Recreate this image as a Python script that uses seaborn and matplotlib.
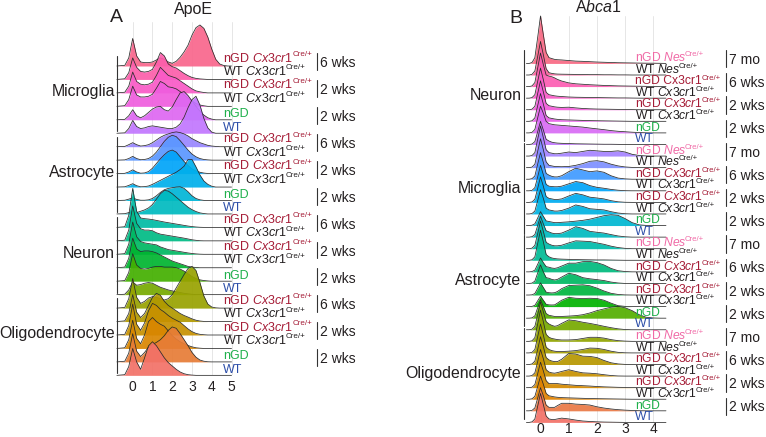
import math
import numpy as np
import matplotlib
matplotlib.use("Agg")
import matplotlib.pyplot as plt
import seaborn as sns

# ---------------- data: panel A (ApoE) ----------------
XA = [-0.8, -0.4, -0.2, 0, 0.2, 0.4, 0.6, 0.8, 1.0, 1.2, 1.4, 1.6, 1.8, 2.0, 2.2, 2.4,
      2.6, 2.8, 3.0, 3.2, 3.4, 3.6, 3.8, 4.0, 4.2, 4.4, 4.6, 4.8, 5.0]

m_ngd_cx_6 = [0, 0.05, 0.6, 2.05, 0.75, 0.3, 0.25, 0.25, 0.3, 0.45, 0.6, 0.5, 0.3, 0.2, 0.35, 0.65, 1.05, 1.55, 2.3, 2.85, 3.05, 2.8, 2.15, 1.25, 0.5, 0.15, 0.04, 0, 0]
m_wt_cx_6 = [0, 0.05, 0.5, 1.6, 0.9, 0.6, 0.55, 0.6, 0.75, 1.3, 2.0, 1.75, 1.15, 0.95, 0.85, 0.65, 0.45, 0.28, 0.15, 0.08, 0.04, 0.02, 0, 0, 0, 0, 0, 0, 0]
m_ngd_cx_2 = [0, 0.05, 0.5, 1.55, 0.85, 0.65, 0.6, 0.65, 0.8, 1.3, 1.9, 1.6, 1.3, 1.2, 1.1, 0.9, 0.7, 0.5, 0.3, 0.15, 0.08, 0.03, 0, 0, 0, 0, 0, 0, 0]
m_wt_cx_2 = [0, 0.05, 0.5, 1.5, 0.85, 0.7, 0.7, 0.75, 0.9, 1.35, 1.85, 1.7, 1.45, 1.4, 1.3, 1.1, 0.85, 0.6, 0.4, 0.22, 0.1, 0.04, 0, 0, 0, 0, 0, 0, 0]
m_ngd = [0, 0.03, 0.3, 0.75, 0.3, 0.15, 0.3, 0.55, 0.8, 0.95, 1.0, 0.75, 0.65, 0.95, 1.5, 2.0, 2.1, 1.8, 1.4, 1.0, 0.65, 0.35, 0.15, 0.05, 0, 0, 0, 0, 0]
m_wt = [0, 0.03, 0.35, 0.95, 0.5, 0.35, 0.4, 0.5, 0.55, 0.5, 0.45, 0.4, 0.35, 0.35, 0.45, 0.7, 1.2, 1.9, 2.5, 2.75, 2.1, 1.1, 0.4, 0.08, 0, 0, 0, 0, 0]

a_ngd_cx_6 = [0, 0.02, 0.15, 0.3, 0.15, 0.05, 0.08, 0.15, 0.3, 0.5, 0.7, 0.85, 0.95, 1.05, 1.1, 1.05, 0.95, 0.8, 0.6, 0.45, 0.3, 0.2, 0.1, 0.05, 0.02, 0, 0, 0, 0]
a_wt_cx_6 = [0, 0.02, 0.12, 0.28, 0.12, 0.03, 0.05, 0.12, 0.3, 0.6, 1.0, 1.4, 1.7, 1.85, 1.75, 1.45, 1.1, 0.75, 0.45, 0.25, 0.12, 0.05, 0.02, 0, 0, 0, 0, 0, 0]
a_ngd_cx_2 = [0, 0.02, 0.12, 0.28, 0.12, 0.03, 0.05, 0.15, 0.4, 0.75, 1.1, 1.4, 1.65, 1.75, 1.6, 1.25, 0.9, 0.6, 0.35, 0.2, 0.1, 0.04, 0.01, 0, 0, 0, 0, 0, 0]
a_wt_cx_2 = [0, 0.02, 0.12, 0.25, 0.1, 0.02, 0.03, 0.08, 0.2, 0.35, 0.5, 0.65, 0.8, 0.95, 1.1, 1.3, 1.55, 2.05, 2.05, 1.5, 0.9, 0.45, 0.2, 0.06, 0, 0, 0, 0, 0]
a_ngd = [0, 0.02, 0.1, 0.2, 0.08, 0.02, 0.02, 0.05, 0.15, 0.35, 0.6, 0.8, 0.9, 0.95, 1.0, 1.02, 0.9, 0.65, 0.35, 0.15, 0.05, 0.01, 0, 0, 0, 0, 0, 0, 0]
a_wt = [0, 0.02, 0.1, 0.2, 0.1, 0.2, 0.3, 0.45, 0.7, 1.1, 1.5, 1.75, 1.7, 1.5, 1.25, 1.0, 0.75, 0.5, 0.32, 0.18, 0.08, 0.03, 0, 0, 0, 0, 0, 0, 0]

n_ngd_cx_6 = [0, 0.05, 0.9, 2.9, 1.2, 0.7, 0.65, 0.62, 0.58, 0.52, 0.46, 0.4, 0.35, 0.3, 0.25, 0.2, 0.15, 0.1, 0.06, 0.03, 0.01, 0, 0, 0, 0, 0, 0, 0, 0]
n_wt_cx_6 = [0, 0.05, 0.8, 2.6, 1.3, 0.9, 0.8, 0.8, 0.75, 0.6, 0.5, 0.45, 0.4, 0.35, 0.3, 0.25, 0.2, 0.14, 0.08, 0.04, 0.01, 0, 0, 0, 0, 0, 0, 0, 0]
n_ngd_cx_2 = [0, 0.05, 0.75, 2.4, 1.3, 0.95, 0.85, 0.8, 0.75, 0.7, 0.55, 0.45, 0.35, 0.3, 0.25, 0.2, 0.15, 0.1, 0.06, 0.03, 0.01, 0, 0, 0, 0, 0, 0, 0, 0]
n_wt_cx_2 = [0, 0.05, 0.7, 2.2, 1.4, 1.2, 1.25, 1.25, 1.2, 1.1, 0.95, 0.8, 0.65, 0.5, 0.4, 0.3, 0.2, 0.1, 0.05, 0.02, 0, 0, 0, 0, 0, 0, 0, 0, 0]
n_ngd = [0, 0.05, 0.65, 2.05, 1.2, 0.95, 0.9, 0.95, 1.05, 1.1, 1.1, 1.05, 1.05, 1.05, 1.0, 0.9, 0.75, 0.55, 0.35, 0.2, 0.1, 0.05, 0.02, 0, 0, 0, 0, 0, 0]
n_wt = [0, 0.03, 0.35, 0.95, 0.7, 0.75, 0.85, 0.9, 0.85, 0.7, 0.55, 0.45, 0.35, 0.28, 0.22, 0.16, 0.1, 0.06, 0.03, 0.01, 0, 0, 0, 0, 0, 0, 0, 0, 0]

o_ngd_cx_6 = [0, 0.05, 0.7, 2.2, 0.8, 0.35, 0.5, 0.75, 0.85, 0.8, 0.7, 0.6, 0.7, 1.0, 1.5, 2.0, 2.5, 2.95, 3.1, 2.8, 1.9, 0.9, 0.3, 0.08, 0.02, 0, 0, 0, 0]
o_wt_cx_6 = [0, 0.05, 0.6, 2.0, 0.7, 0.3, 0.6, 1.2, 1.8, 2.1, 1.95, 1.5, 1.2, 1.0, 0.8, 0.6, 0.45, 0.33, 0.2, 0.1, 0.04, 0.01, 0, 0, 0, 0, 0, 0, 0]
o_ngd_cx_2 = [0, 0.05, 0.7, 2.3, 0.8, 0.35, 0.9, 1.8, 2.35, 2.2, 1.9, 1.7, 1.45, 1.25, 1.1, 0.95, 0.7, 0.45, 0.25, 0.12, 0.05, 0.02, 0, 0, 0, 0, 0, 0, 0]
o_wt_cx_2 = [0, 0.05, 0.65, 2.1, 0.75, 0.35, 1.0, 2.0, 2.3, 2.0, 1.8, 1.65, 1.3, 0.95, 0.7, 0.5, 0.35, 0.22, 0.12, 0.05, 0.02, 0, 0, 0, 0, 0, 0, 0, 0]
o_ngd = [0, 0.05, 0.65, 2.1, 0.8, 0.4, 0.7, 1.1, 1.3, 1.45, 1.65, 1.95, 2.35, 2.6, 2.5, 2.1, 1.65, 1.2, 0.7, 0.35, 0.14, 0.05, 0.01, 0, 0, 0, 0, 0, 0]
o_wt = [0, 0.05, 0.65, 2.0, 1.0, 0.45, 1.3, 2.2, 2.5, 2.2, 1.75, 1.3, 0.95, 0.7, 0.45, 0.25, 0.12, 0.05, 0.02, 0, 0, 0, 0, 0, 0, 0, 0, 0, 0]

CELLS_A = ["Microglia", "Astrocyte", "Neuron", "Oligodendrocyte"]
GROUPS_A = ["nGD Cx3cr1", "WT Cx3cr1", "nGD Cx3cr1", "WT Cx3cr1", "nGD", "WT"]
AGES_A = ["6 wks", "2 wks", "2 wks"]
TICKS_A = [0, 1, 2, 3, 4, 5]

# ---------------- data: panel B (Abca1) ----------------
XB = [-0.5, -0.4, -0.3, -0.2, -0.1, 0, 0.1, 0.2, 0.3, 0.4, 0.5, 0.6, 0.75, 1.0, 1.25, 1.5,
      1.75, 2.0, 2.25, 2.5, 2.75, 3.0, 3.25, 3.5, 3.75, 4.0, 4.25, 4.45]

bn_ngd_nes = [0, 0, 0.08, 0.5, 2.25, 4.1, 2.5, 0.95, 0.5, 0.42, 0.35, 0.32, 0.3, 0.25, 0.2, 0.18, 0.15, 0.12, 0.1, 0.08, 0.06, 0.05, 0.04, 0.03, 0.02, 0.02, 0.01, 0]
bn_wt_nes = [0, 0, 0.06, 0.35, 1.6, 2.9, 1.75, 0.55, 0.2, 0.14, 0.1, 0.08, 0.07, 0.06, 0.05, 0.04, 0.03, 0.03, 0.02, 0.02, 0.01, 0.01, 0, 0, 0, 0, 0, 0]
bn_ngd_cx_6 = [0, 0, 0.06, 0.35, 1.6, 2.9, 1.9, 1.0, 0.9, 0.85, 0.75, 0.62, 0.48, 0.32, 0.24, 0.2, 0.16, 0.13, 0.1, 0.08, 0.06, 0.05, 0.04, 0.03, 0.02, 0.01, 0, 0]
bn_wt_cx_6 = [0, 0, 0.05, 0.3, 1.45, 2.6, 1.6, 0.5, 0.3, 0.25, 0.2, 0.17, 0.14, 0.1, 0.08, 0.07, 0.06, 0.05, 0.04, 0.03, 0.02, 0.02, 0.01, 0, 0, 0, 0, 0]
bn_ngd_cx_2 = [0, 0, 0.05, 0.3, 1.4, 2.5, 1.55, 0.55, 0.35, 0.3, 0.25, 0.22, 0.2, 0.22, 0.16, 0.11, 0.08, 0.06, 0.05, 0.04, 0.03, 0.02, 0.01, 0, 0, 0, 0, 0]
bn_wt_cx_2 = [0, 0, 0.05, 0.3, 1.35, 2.4, 1.5, 0.5, 0.3, 0.25, 0.2, 0.17, 0.14, 0.12, 0.1, 0.08, 0.06, 0.05, 0.04, 0.03, 0.02, 0.01, 0, 0, 0, 0, 0, 0]
bn_ngd = [0, 0, 0.05, 0.3, 1.3, 2.3, 1.7, 1.0, 0.8, 0.75, 0.7, 0.68, 0.65, 0.6, 0.55, 0.5, 0.42, 0.35, 0.28, 0.2, 0.14, 0.1, 0.06, 0.03, 0.01, 0, 0, 0]
bn_wt = [0, 0, 0.04, 0.25, 1.1, 2.0, 1.25, 0.45, 0.3, 0.2, 0.15, 0.12, 0.1, 0.08, 0.06, 0.05, 0.04, 0.03, 0.02, 0.02, 0.01, 0, 0, 0, 0, 0, 0, 0]

bm_ngd_nes = [0, 0, 0.05, 0.3, 1.45, 2.6, 1.6, 0.55, 0.3, 0.25, 0.2, 0.2, 0.25, 0.35, 0.3, 0.4, 0.5, 0.45, 0.4, 0.4, 0.45, 0.35, 0.15, 0.05, 0.01, 0, 0, 0]
bm_wt_nes = [0, 0, 0.05, 0.3, 1.4, 2.5, 1.55, 0.5, 0.2, 0.15, 0.1, 0.09, 0.08, 0.1, 0.2, 0.35, 0.55, 0.6, 0.5, 0.3, 0.15, 0.06, 0.02, 0, 0, 0, 0, 0]
bm_ngd_cx_6 = [0, 0, 0.05, 0.28, 1.3, 2.3, 1.45, 0.5, 0.35, 0.25, 0.2, 0.2, 0.3, 0.65, 0.95, 0.8, 0.65, 0.72, 0.6, 0.3, 0.1, 0.03, 0, 0, 0, 0, 0, 0]
bm_wt_cx_6 = [0, 0, 0.04, 0.27, 1.2, 2.2, 1.4, 0.55, 0.4, 0.37, 0.35, 0.35, 0.4, 0.6, 0.8, 0.7, 0.45, 0.3, 0.22, 0.12, 0.05, 0.01, 0, 0, 0, 0, 0, 0]
bm_ngd_cx_2 = [0, 0, 0.04, 0.27, 1.2, 2.2, 1.4, 0.5, 0.35, 0.3, 0.25, 0.25, 0.3, 0.55, 0.78, 0.65, 0.45, 0.38, 0.3, 0.15, 0.05, 0.01, 0, 0, 0, 0, 0, 0]
bm_wt_cx_2 = [0, 0, 0.04, 0.25, 1.15, 2.1, 1.35, 0.5, 0.35, 0.3, 0.25, 0.25, 0.3, 0.5, 0.78, 0.65, 0.45, 0.4, 0.35, 0.2, 0.08, 0.02, 0, 0, 0, 0, 0, 0]
bm_ngd = [0, 0, 0.03, 0.15, 0.65, 1.2, 0.8, 0.4, 0.35, 0.3, 0.25, 0.25, 0.28, 0.32, 0.38, 0.45, 0.55, 0.7, 0.85, 0.93, 0.88, 0.6, 0.25, 0.06, 0.01, 0, 0, 0]
bm_wt = [0, 0, 0.04, 0.22, 1.0, 1.8, 1.15, 0.55, 0.45, 0.35, 0.3, 0.3, 0.35, 0.6, 0.9, 0.75, 0.5, 0.42, 0.35, 0.22, 0.1, 0.03, 0, 0, 0, 0, 0, 0]

ba_ngd_nes = [0, 0, 0.05, 0.29, 1.3, 2.4, 1.5, 0.55, 0.4, 0.3, 0.25, 0.25, 0.3, 0.5, 0.68, 0.65, 0.62, 0.5, 0.38, 0.22, 0.1, 0.03, 0, 0, 0, 0, 0, 0]
ba_wt_nes = [0, 0, 0.05, 0.3, 1.45, 2.6, 1.6, 0.5, 0.3, 0.2, 0.15, 0.12, 0.1, 0.08, 0.06, 0.05, 0.04, 0.03, 0.03, 0.02, 0.01, 0, 0, 0, 0, 0, 0, 0]
ba_ngd_cx_6 = [0, 0, 0.03, 0.15, 0.65, 1.2, 0.8, 0.45, 0.4, 0.33, 0.3, 0.35, 0.5, 0.75, 0.75, 0.88, 0.9, 0.8, 0.6, 0.3, 0.1, 0.03, 0, 0, 0, 0, 0, 0]
ba_wt_cx_6 = [0, 0, 0.03, 0.2, 0.9, 1.6, 1.0, 0.5, 0.45, 0.35, 0.3, 0.35, 0.55, 0.88, 0.75, 0.5, 0.4, 0.33, 0.25, 0.12, 0.04, 0, 0, 0, 0, 0, 0, 0]
ba_ngd_cx_2 = [0, 0, 0.02, 0.13, 0.58, 1.05, 0.65, 0.25, 0.2, 0.18, 0.2, 0.3, 0.55, 0.82, 0.85, 0.88, 0.8, 0.6, 0.35, 0.15, 0.05, 0.01, 0, 0, 0, 0, 0, 0]
ba_wt_cx_2 = [0, 0, 0.02, 0.11, 0.5, 0.9, 0.55, 0.2, 0.15, 0.14, 0.15, 0.3, 0.55, 0.8, 0.72, 0.7, 0.72, 0.7, 0.55, 0.3, 0.08, 0.02, 0, 0, 0, 0, 0, 0]
ba_ngd = [0, 0, 0.03, 0.2, 0.9, 1.6, 1.0, 0.4, 0.25, 0.2, 0.15, 0.15, 0.15, 0.18, 0.22, 0.3, 0.45, 0.65, 0.8, 0.95, 1.02, 0.9, 0.65, 0.3, 0.08, 0.02, 0, 0]
ba_wt = [0, 0, 0.05, 0.29, 1.3, 2.4, 1.55, 0.7, 0.5, 0.38, 0.3, 0.35, 0.55, 0.85, 0.78, 0.65, 0.55, 0.43, 0.3, 0.18, 0.08, 0.02, 0, 0, 0, 0, 0, 0]

bo_ngd_nes = [0, 0, 0.05, 0.32, 1.5, 2.7, 1.7, 0.6, 0.35, 0.25, 0.2, 0.15, 0.12, 0.12, 0.15, 0.25, 0.35, 0.35, 0.28, 0.15, 0.06, 0.02, 0, 0, 0, 0, 0, 0]
bo_wt_nes = [0, 0, 0.05, 0.3, 1.4, 2.5, 1.55, 0.5, 0.3, 0.2, 0.15, 0.12, 0.12, 0.15, 0.2, 0.3, 0.42, 0.4, 0.3, 0.15, 0.05, 0.01, 0, 0, 0, 0, 0, 0]
bo_ngd_cx_6 = [0, 0, 0.05, 0.29, 1.3, 2.4, 1.55, 0.6, 0.4, 0.3, 0.25, 0.25, 0.45, 0.95, 0.9, 0.72, 0.7, 0.6, 0.35, 0.15, 0.05, 0.01, 0, 0, 0, 0, 0, 0]
bo_wt_cx_6 = [0, 0, 0.05, 0.28, 1.25, 2.3, 1.5, 0.55, 0.35, 0.28, 0.25, 0.3, 0.4, 0.55, 0.4, 0.28, 0.25, 0.2, 0.12, 0.05, 0.01, 0, 0, 0, 0, 0, 0, 0]
bo_ngd_cx_2 = [0, 0, 0.04, 0.27, 1.2, 2.2, 1.45, 0.6, 0.35, 0.35, 0.35, 0.35, 0.3, 0.25, 0.2, 0.17, 0.14, 0.1, 0.07, 0.05, 0.03, 0.02, 0.01, 0, 0, 0, 0, 0]
bo_wt_cx_2 = [0, 0, 0.04, 0.25, 1.1, 2.0, 1.3, 0.5, 0.3, 0.25, 0.2, 0.17, 0.14, 0.12, 0.1, 0.08, 0.06, 0.05, 0.04, 0.03, 0.02, 0.01, 0, 0, 0, 0, 0, 0]
bo_ngd = [0, 0, 0.04, 0.25, 1.1, 2.0, 1.3, 0.5, 0.3, 0.3, 0.3, 0.45, 0.65, 0.65, 0.58, 0.55, 0.5, 0.35, 0.24, 0.16, 0.1, 0.06, 0.03, 0.01, 0, 0, 0, 0]
bo_wt = [0, 0, 0.05, 0.3, 1.4, 2.5, 1.55, 0.55, 0.3, 0.25, 0.25, 0.3, 0.37, 0.3, 0.2, 0.12, 0.08, 0.05, 0.03, 0.02, 0.01, 0, 0, 0, 0, 0, 0, 0]

CELLS_B = ["Neuron", "Microglia", "Astrocyte", "Oligodendrocyte"]
GROUPS_B = ["nGD Nes", "WT Nes", "nGD Cx3cr1", "WT Cx3cr1", "nGD Cx3cr1", "WT Cx3cr1", "nGD", "WT"]
AGES_B = ["7 mo", "6 wks", "2 wks", "2 wks"]
TICKS_B = [0, 1, 2, 3, 4]

ROWS_A = [m_ngd_cx_6, m_wt_cx_6, m_ngd_cx_2, m_wt_cx_2, m_ngd, m_wt,
          a_ngd_cx_6, a_wt_cx_6, a_ngd_cx_2, a_wt_cx_2, a_ngd, a_wt,
          n_ngd_cx_6, n_wt_cx_6, n_ngd_cx_2, n_wt_cx_2, n_ngd, n_wt,
          o_ngd_cx_6, o_wt_cx_6, o_ngd_cx_2, o_wt_cx_2, o_ngd, o_wt]
ROWS_B = [bn_ngd_nes, bn_wt_nes, bn_ngd_cx_6, bn_wt_cx_6, bn_ngd_cx_2, bn_wt_cx_2, bn_ngd, bn_wt,
          bm_ngd_nes, bm_wt_nes, bm_ngd_cx_6, bm_wt_cx_6, bm_ngd_cx_2, bm_wt_cx_2, bm_ngd, bm_wt,
          ba_ngd_nes, ba_wt_nes, ba_ngd_cx_6, ba_wt_cx_6, ba_ngd_cx_2, ba_wt_cx_2, ba_ngd, ba_wt,
          bo_ngd_nes, bo_wt_nes, bo_ngd_cx_6, bo_wt_cx_6, bo_ngd_cx_2, bo_wt_cx_2, bo_ngd, bo_wt]

# ---------------- style ----------------
sns.set_theme(style="white")
plt.rcParams["font.family"] = ["Liberation Sans", "DejaVu Sans"]
plt.rcParams["mathtext.fontset"] = "custom"
plt.rcParams["mathtext.rm"] = "Liberation Sans"
plt.rcParams["mathtext.it"] = "Liberation Sans:italic"
plt.rcParams["mathtext.bf"] = "Liberation Sans:bold"

RED = "#A51C36"
BLACK = "#231F20"
GREEN = "#1FB04B"
BLUE = "#2B4DA8"
PINK = "#F06AA6"
LINE = "#2a2a2a"


def hcl_hex(h, c, l):
    hr = math.radians(h)
    u, v = c * math.cos(hr), c * math.sin(hr)
    Xn, Yn, Zn = 95.047, 100.0, 108.883
    den = Xn + 15 * Yn + 3 * Zn
    un, vn = 4 * Xn / den, 9 * Yn / den
    Y = Yn * ((l + 16) / 116) ** 3
    up, vp = u / (13 * l) + un, v / (13 * l) + vn
    X = Y * 9 * up / (4 * vp)
    Z = Y * (12 - 3 * up - 20 * vp) / (4 * vp)
    X, Y, Z = X / 100, Y / 100, Z / 100
    rgb = [3.2404542 * X - 1.5371385 * Y - 0.4985314 * Z,
           -0.9692660 * X + 1.8760108 * Y + 0.0415560 * Z,
           0.0556434 * X - 0.2040259 * Y + 1.0572252 * Z]
    out = []
    for t in rgb:
        t = 12.92 * t if t <= 0.0031308 else 1.055 * t ** (1 / 2.4) - 0.055
        out.append(min(1, max(0, t)))
    return tuple(out)


def fmt_label(lbl, italic=True):
    """Return (main text, has superscript, colour)."""
    if lbl == "nGD":
        return "nGD", False, GREEN
    if lbl == "WT":
        return "WT", False, BLUE
    geno, gene = lbl.split()
    if italic:
        s = geno + r" $\mathit{" + gene + r"}$"
    else:
        s = geno + " " + gene
    if geno == "WT":
        col = BLACK
    elif gene == "Cx3cr1":
        col = RED
    else:
        col = PINK
    return s, True, col


W, H = 766, 437
fig = plt.figure(figsize=(W / 100, H / 100), dpi=100)


def make_axes(x0px, ux, xlim, bottom_px, row_px, top_px):
    left = x0px + xlim[0] * ux
    right = x0px + xlim[1] * ux
    ax = fig.add_axes([left / W, 1 - bottom_px / H, (right - left) / W, (bottom_px - top_px) / H])
    ax.set_xlim(*xlim)
    ax.set_ylim(0, (bottom_px - top_px) / row_px)
    return ax


def draw_panel(ax, xs, rows, cells, groups, ages, ticks, cfg):
    n = len(rows)
    g = len(groups)
    xs = np.array(xs, dtype=float)
    for i, h in enumerate(rows):
        base = n - 1 - i
        col = hcl_hex(15 + 360.0 * (n - 1 - i) / n, 100, 63)
        y = base + np.array(h, dtype=float)
        ax.fill_between(xs, base, y, color=col, alpha=0.92, lw=0, zorder=2 + 2 * i, clip_on=False)
        sns.lineplot(x=xs, y=y, ax=ax, color=LINE, lw=0.55, zorder=3 + 2 * i,
                     estimator=None, sort=False, legend=False, clip_on=False)
    for ci, cell in enumerate(cells):
        first = n - 1 - ci * g
        last = first - (g - 1)
        ax.text(cfg["cell_x"], (first + last) / 2 + cfg["cell_dy"], cell, ha="right", va="baseline",
                fontsize=11.4, color=BLACK, zorder=200)
        ax.plot([cfg["brk_x"], cfg["brk_x"]], [last + cfg["brk_lo"], first + cfg["brk_hi"]],
                color="#333333", lw=0.8, clip_on=False, zorder=200)
        for j, grp in enumerate(groups):
            base = first - j
            italic = not (cfg.get("upright") == (ci, j))
            s, sup, col = fmt_label(grp, italic)
            dy = cfg["lab_dy_plain"] if grp in ("nGD", "WT") else cfg["lab_dy"]
            t = ax.text(cfg["lab_x"], base + dy, s, ha="left", va="baseline", fontsize=cfg["lab_fs"],
                        color=col, zorder=200)
            if sup:
                ax.annotate("Cre/+", xy=(1, 1), xycoords=t,
                            xytext=(-0.9 if italic else 0.3, cfg["sup_dy"]),
                            textcoords="offset points", ha="left", va="top",
                            fontsize=cfg["sup_fs"], color=col, zorder=200, annotation_clip=False)
        for k, age in enumerate(ages):
            base = first - 2 * k
            tb = base + cfg["age_dy"]
            ax.plot([cfg["bar_x"], cfg["bar_x"]], [tb + cfg["bar_lo"], tb + cfg["bar_hi"]],
                    color="#333333", lw=0.8, clip_on=False, zorder=200)
            ax.text(cfg["age_x"], tb, age, ha="left", va="baseline", fontsize=10,
                    color=BLACK, zorder=200)
    ax.set_xticks(ticks)
    ax.set_xticklabels([str(t) for t in ticks])
    ax.set_yticks([])
    ax.set_xlabel("")
    ax.set_ylabel("")
    ax.tick_params(axis="x", length=0, pad=cfg["pad"], labelsize=cfg["tick_fs"], colors=BLACK)
    ax.set_axisbelow(True)
    ax.grid(axis="x", color="#E6E6E6", lw=0.7)
    ax.grid(axis="y", visible=False)
    for sp in ax.spines.values():
        sp.set_visible(False)
    ax.patch.set_alpha(0)


# Panel A
axA = make_axes(132.7, 19.77, (-0.8, 5.1), 375.35, 13.45, 22)
draw_panel(axA, XA, ROWS_A, CELLS_A, GROUPS_A, AGES_A, TICKS_A,
           dict(cell_x=-0.9, cell_dy=0.25, brk_x=-0.79, brk_lo=0.15, brk_hi=0.75,
                lab_x=4.58, lab_dy=0.33, lab_dy_plain=0.2, lab_fs=9, sup_fs=5.8, sup_dy=0.4,
                bar_x=9.31, age_x=9.47, age_dy=-0.1, bar_lo=-0.2, bar_hi=1.05,
                pad=3.2, tick_fs=10))
axA.set_xlim(-0.8, 5.1)
axA.set_ylim(0, (375.35 - 22) / 13.45)

# Panel B
B_BOTTOM, B_TOP = 422.4, 16
axB = make_axes(540.5, 28.2, (-0.55, 4.45), B_BOTTOM, 11.58, B_TOP)
draw_panel(axB, XB, ROWS_B, CELLS_B, GROUPS_B, AGES_B, TICKS_B,
           dict(cell_x=-0.68, cell_dy=0.35, brk_x=-0.6, brk_lo=0.3, brk_hi=1.15,
                lab_x=3.34, lab_dy=0.2, lab_dy_plain=0.2, lab_fs=8.7, sup_fs=5.6, sup_dy=0.0,
                upright=(0, 2),
                bar_x=6.57, age_x=6.68, age_dy=-0.05, bar_lo=-0.3, bar_hi=1.2,
                pad=0.0, tick_fs=10))
axB.set_xlim(-0.55, 4.45)
axB.set_ylim(0, (B_BOTTOM - B_TOP) / 11.58)

# Panel letters and titles
fig.text(110 / W, 1 - 22 / H, "A", fontsize=14, ha="left", va="baseline", color=BLACK)
fig.text(509.7 / W, 1 - 23.3 / H, "B", fontsize=14, ha="left", va="baseline", color=BLACK)
fig.text(193 / W, 1 - 14 / H, "ApoE", fontsize=11.5, ha="center", va="baseline", color=BLACK)
fig.text(598 / W, 1 - 11.7 / H, r"A$\mathit{bca1}$", fontsize=11.5, ha="center", va="baseline", color=BLACK)

fig.savefig("out.png", dpi=100)
